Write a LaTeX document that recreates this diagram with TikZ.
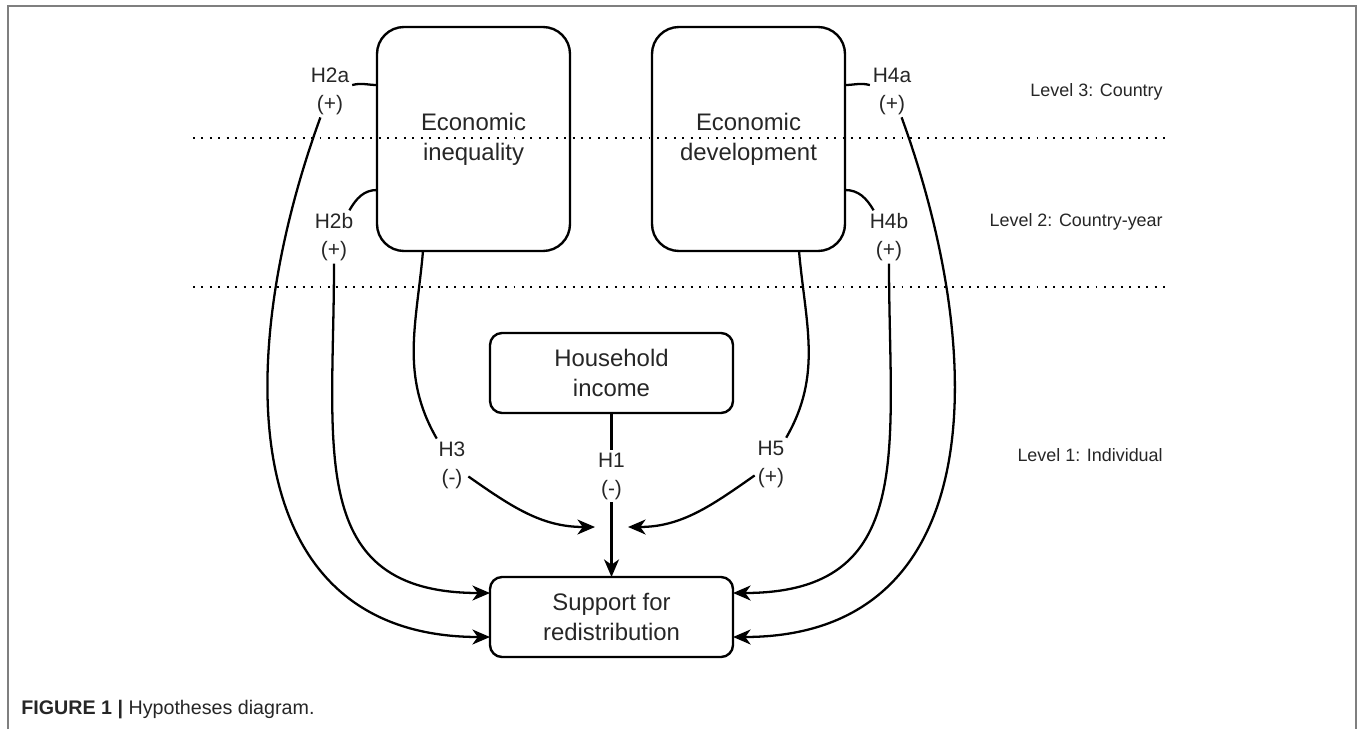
\documentclass[tikz,border=0pt]{standalone}
\usepackage{fontspec}
\setmainfont{Liberation Sans}
\usetikzlibrary{arrows.meta,positioning}

\definecolor{txtgray}{HTML}{262626}
\definecolor{framegray}{HTML}{7F7F7F}

\tikzstyle{main}     = [draw=black, line width=1.35pt, text=txtgray, align=center, inner sep=0pt, outer sep=0pt]
\tikzstyle{bigbox}   = [main, rounded corners=5.4mm, minimum width=3.86cm, minimum height=4.48cm, font=\fontsize{13.6}{17}\selectfont]
\tikzstyle{smallbox} = [main, rounded corners=2.4mm, minimum width=4.86cm, minimum height=1.6cm, font=\fontsize{13.6}{17}\selectfont]
\tikzstyle{hyp}      = [text=txtgray, align=center, inner sep=1.5pt, font=\fontsize{11.9}{15.9}\selectfont]
\tikzstyle{lvltext}  = [text=txtgray, anchor=east, inner sep=0pt, font=\fontsize{10.2}{12}\selectfont]
\tikzstyle{link}     = [line width=1.3pt]
\tikzstyle{arr}      = [link, -{Stealth[length=10pt, width=8.5pt, inset=3pt]}]
\tikzstyle{dotrule}  = [line width=1.1pt, dash pattern=on 1.1pt off 3.7pt]

\begin{document}
\begin{tikzpicture}
  \useasboundingbox (0,0) rectangle (27.14,-14.58);
  % frame
  \draw[framegray, line width=1.2pt] (0.16,-14.58) -- (0.16,-0.12) -- (27.12,-0.12) -- (27.12,-14.58);

  % levels
  \draw[dotrule] (3.86,-2.76) -- (23.30,-2.76);
  \draw[dotrule] (3.86,-5.74) -- (23.30,-5.74);
  \node[lvltext] (lvl3) at (23.26,-1.84) {Level 3: Country};
  \node[lvltext] (lvl2) at (23.26,-4.44) {Level 2: Country-year};
  \node[lvltext] (lvl1) at (23.26,-9.10) {Level 1: Individual};

  % variables
  \node[bigbox]   (ineq)    at (9.47,-2.78)  {Economic\\inequality};
  \node[bigbox]   (devel)   at (14.97,-2.78) {Economic\\development};
  \node[smallbox] (house)   at (12.23,-7.46) {Household\\income};
  \node[smallbox] (support) at (12.23,-12.34) {Support for\\redistribution};

  % hypotheses
  \node[hyp] (h2a) at (6.60,-1.82)  {H2a\\(+)};
  \node[hyp] (h2b) at (6.68,-4.74)  {H2b\\(+)};
  \node[hyp] (h4a) at (17.84,-1.82) {H4a\\(+)};
  \node[hyp] (h4b) at (17.78,-4.74) {H4b\\(+)};
  \node[hyp] (h3)  at (9.04,-9.30)  {H3\\(-)};
  \node[hyp] (h1)  at (12.23,-9.52) {H1\\(-)};
  \node[hyp] (h5)  at (15.42,-9.28) {H5\\(+)};
  \coordinate (h3tip) at (11.90,-10.54);
  \coordinate (h5tip) at (12.56,-10.54);

  % H1
  \draw[link] (house) -- (h1);
  \draw[arr] (h1) -- (support);
  % H3 and H5
  \draw[link] ([xshift=-1.01cm]ineq.south) to[out=-95, in=120] (h3);
  \draw[arr] (h3) to[out=-35, in=180] (h3tip);
  \draw[link] ([xshift=1.01cm]devel.south) to[out=-85, in=60] (h5);
  \draw[arr] (h5) to[out=-145, in=0] (h5tip);
  % H2a and H2b
  \draw[link] ([yshift=1.08cm]ineq.west) to[out=180, in=15] (h2a);
  \draw[arr] (h2a) to[out=-110, in=180, looseness=1.2] ([yshift=-0.4cm]support.west);
  \draw[link] ([yshift=-1.02cm]ineq.west) to[out=180, in=60] (h2b);
  \draw[arr] (h2b) to[out=-90, in=180, looseness=1.3] ([yshift=0.48cm]support.west);
  % H4a and H4b
  \draw[link] ([yshift=1.08cm]devel.east) to[out=0, in=165] (h4a);
  \draw[arr] (h4a) to[out=-70, in=0, looseness=1.2] ([yshift=-0.4cm]support.east);
  \draw[link] ([yshift=-1.02cm]devel.east) to[out=0, in=120] (h4b);
  \draw[arr] (h4b) to[out=-90, in=0, looseness=1.3] ([yshift=0.48cm]support.east);

  \node[anchor=base west, text=txtgray, inner sep=0pt, font=\fontsize{11.2}{13}\selectfont] (caption) at (0.42,-14.28) {\textbf{FIGURE 1 |} Hypotheses diagram.};
\end{tikzpicture}
\end{document}
